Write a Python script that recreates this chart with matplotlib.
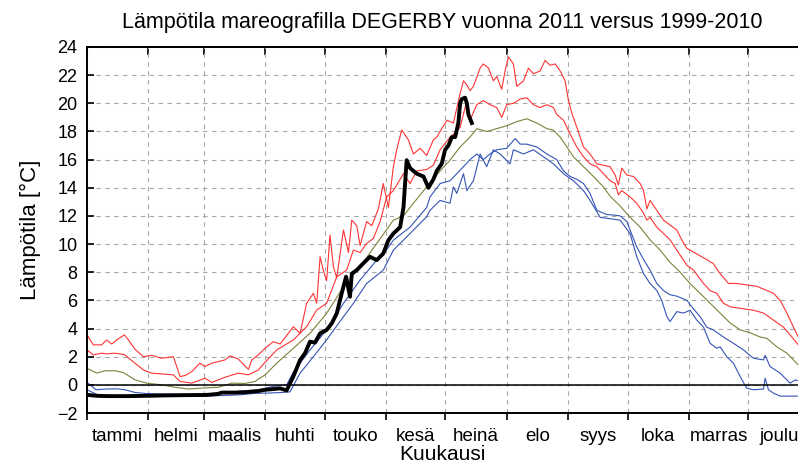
import matplotlib
matplotlib.use('Agg')
import matplotlib.pyplot as plt
import numpy as np

# day of year, temperature (deg C)
red_max = [(0, 3.55), (3.2, 2.84), (7.4, 2.84), (9.9, 3.19), (12.5, 2.9), (15, 3.19), (18.9, 3.55),
           (20.9, 3.19), (24.2, 2.53), (28.5, 2.0), (32.7, 2.1), (37.7, 1.89), (43.6, 2.0), (47, 0.59),
           (49.5, 0.66), (52.9, 0.94), (57, 1.54), (59.6, 1.3), (63, 1.54), (69.7, 1.77), (72.2, 2.06),
           (76.4, 1.83), (81.5, 1.1), (83.2, 1.77), (86.5, 2.13), (89.9, 2.6), (94.1, 3.07), (97.5, 2.9),
           (104.2, 4.13), (107.6, 3.66), (110.9, 5.79), (114.3, 6.5), (116, 5.8), (117.7, 9.1),
           (119.4, 8.1), (121, 7.4), (122.7, 10.64), (124.4, 8.4), (126.1, 7.6), (129.5, 11.0),
           (132, 9.4), (133.7, 11.7), (136.2, 11.3), (137.9, 9.9), (141.2, 11.6), (143.8, 11.3),
           (147.1, 12.5), (149.6, 14.3), (152.2, 12.6), (154.7, 15.5), (156.4, 16.7), (158.9, 18.1),
           (162.3, 17.4), (164.8, 16.4), (168.2, 16.8), (171.5, 16.3), (174.9, 17.4), (176.6, 17.6),
           (181.7, 18.8), (185, 18.6), (188.4, 20.7), (190.1, 21.6), (191.8, 21.3), (193.4, 20.9),
           (195.1, 21.2), (198.5, 22.5), (200.1, 22.8), (202.7, 22.5), (205.2, 21.6), (206.9, 21.9),
           (209.4, 21.0), (211.1, 22.3), (212.8, 23.3), (215.3, 22.8), (217, 21.2), (220.4, 21.6),
           (222.9, 22.5), (225.4, 22.1), (228.8, 22.3), (231.3, 23.05), (233.8, 22.7), (236.4, 22.8),
           (238.9, 22.3), (241.4, 21.6), (243.1, 20.2), (244.8, 19.3), (247.3, 18.3), (250.7, 16.9),
           (254, 16.4), (257.4, 15.7), (260.8, 15.6), (264.1, 15.5), (266.7, 14.9), (268.3, 14.2),
           (270, 15.4), (272.6, 14.9), (275.9, 14.8), (279.3, 14.3), (281, 13.8), (282.7, 12.5),
           (284.3, 13.1), (287.7, 12.4), (291.1, 11.7), (294.4, 11.35), (297.8, 11.0), (300.3, 10.3),
           (302.9, 9.7), (307.9, 9.3), (312.9, 8.9), (316.3, 8.6), (319.7, 7.9), (323.9, 7.2),
           (328.1, 7.2), (333.1, 7.1), (338.2, 7.0), (343.3, 6.7), (346.6, 6.5), (350, 6.0),
           (353.4, 5.1), (356.7, 4.1), (359.1, 3.4)]

red_upper = [(0, 2.48), (3.2, 2.13), (7.4, 2.25), (9.9, 2.2), (14, 2.25), (18.9, 2.15), (24.2, 1.54),
             (28.5, 1.06), (32.7, 0.83), (43.6, 0.71), (47, 0.24), (52.9, 0.12), (59.6, 0.47), (63, 0.17),
             (69.7, 0.54), (76.4, 0.83), (81.5, 0.71), (86.5, 1.06), (89.9, 1.6), (95.8, 2.48),
             (104.2, 3.19), (110.9, 4.13), (116, 5.32), (121, 5.79), (126.1, 7.68), (131.1, 8.15),
             (134.5, 9.57), (137.9, 9.4), (141.2, 10.05), (144.6, 10.4), (148, 11.6), (151.3, 13.35),
             (154.7, 13.8), (159.8, 15.0), (163.1, 14.3), (166.5, 15.2), (171.5, 15.3), (174.9, 15.6),
             (178.3, 16.7), (183.3, 17.6), (185.9, 17.9), (188.4, 18.3), (191.8, 20.2), (193.4, 18.8),
             (196.8, 19.9), (200.1, 20.2), (203.5, 19.9), (206.9, 19.7), (209.4, 19.0), (211.9, 19.9),
             (215.3, 20.0), (218.7, 20.3), (222, 20.4), (225.4, 19.9), (228.8, 19.7), (232.2, 19.9),
             (235.5, 19.7), (237.2, 19.2), (240.6, 18.8), (244, 17.8), (247.3, 16.9), (250.7, 16.2),
             (254, 15.7), (257.4, 15.5), (260.8, 15.0), (264.1, 14.5), (266.7, 14.3), (268.3, 13.5),
             (270, 13.8), (274.2, 13.35), (277.6, 12.9), (281, 12.2), (282.7, 11.7), (284.3, 11.9),
             (287.7, 11.2), (291.1, 10.75), (294.4, 10.3), (297.8, 9.57), (302.9, 8.5), (306.2, 8.15),
             (311.3, 7.2), (314.6, 6.7), (318, 6.5), (321.3, 5.8), (324.7, 5.55), (331.5, 5.4),
             (336.5, 5.3), (341.6, 5.1), (346.6, 4.6), (351.7, 4.1), (355.9, 3.4), (359.1, 2.84)]

mean = [(0, 1.18), (4.9, 0.83), (9.1, 1.0), (14.1, 1.0), (18.4, 0.87), (24.2, 0.36), (30.1, 0.12),
        (37.7, 0.0), (44.4, -0.17), (51.2, -0.3), (57.9, -0.23), (66.3, -0.17), (73.1, 0.12),
        (79.8, 0.1), (84.8, 0.24), (89.9, 0.71), (95.8, 1.54), (104.2, 2.6), (112.6, 3.66),
        (121, 5.08), (129.5, 6.97), (137.9, 8.39), (146.3, 10.05), (154.7, 11.7), (159.8, 12.0),
        (164.8, 12.9), (171.5, 14.06), (178.3, 15.2), (183.3, 15.96), (188.4, 16.9), (193.4, 17.6),
        (196.8, 18.2), (201.8, 18.0), (206.9, 18.2), (211.9, 18.4), (217, 18.7), (222, 18.9),
        (227.1, 18.6), (232.2, 18.2), (235.5, 18.1), (238.9, 17.6), (242.3, 16.9), (245.6, 16.2),
        (250.7, 15.5), (255.7, 14.8), (260.8, 14.06), (264.1, 13.4), (269.2, 12.7), (274.2, 11.9),
        (279.3, 11.2), (284.3, 10.3), (289.4, 9.57), (294.4, 8.7), (299.5, 8.0), (304.5, 7.2),
        (309.6, 6.5), (314.6, 5.8), (319.7, 5.1), (324.7, 4.4), (329.8, 3.9), (334.8, 3.7),
        (339.9, 3.4), (343.3, 3.3), (348.3, 2.7), (353.4, 2.25), (359.1, 1.42)]

blue_lower_std = [(0, 0.17), (2.5, -0.1), (4.4, -0.35), (9.1, -0.3), (15, -0.28), (19.2, -0.35),
                  (24.2, -0.54), (30, -0.62), (40, -0.65), (50, -0.68), (60, -0.65), (70, -0.55),
                  (77, -0.45), (82, -0.4), (87.4, -0.35), (94.1, -0.1), (100.8, 0.0), (104.2, 0.9),
                  (112.6, 2.48), (121, 3.9), (129.5, 5.79), (137.9, 7.45), (146.3, 8.86), (151.3, 9.6),
                  (154.7, 10.28), (163.1, 11.2), (171.5, 12.6), (173.2, 13.35), (178.3, 14.3),
                  (183.3, 14.5), (186.7, 15.0), (190.1, 15.5), (193.4, 16.0), (196.8, 16.4),
                  (200.1, 16.0), (203.5, 16.4), (206.9, 16.7), (211.9, 16.8), (216.2, 17.5),
                  (218.7, 17.1), (222, 17.1), (227.1, 16.9), (232.2, 16.4), (237.2, 16.0), (240.6, 15.2),
                  (244, 14.8), (247.3, 14.6), (250.7, 14.3), (254, 13.6), (257.4, 12.4), (262.4, 12.1),
                  (266, 12.06), (269.2, 12.0), (272.6, 11.6), (274.2, 11.0), (277.6, 9.8), (281, 8.9),
                  (284.3, 8.15), (287.7, 7.2), (291.1, 6.7), (294.4, 6.4), (297.8, 6.3), (302.9, 6.0),
                  (306.2, 5.4), (309.6, 4.84), (312.9, 4.1), (316.3, 3.9), (321.3, 3.4), (326.4, 2.95),
                  (331.5, 2.48), (336.5, 1.89), (341.6, 1.77), (342.4, 2.1), (344.9, 1.3), (350, 0.83),
                  (355, 0.12), (357.6, 0.35), (359.1, 0.3)]

blue_min = [(0, -0.35), (3, -0.55), (6, -0.75), (15, -0.8), (30, -0.82), (45, -0.82), (60, -0.8),
            (70, -0.75), (78, -0.7), (85, -0.6), (90, -0.59), (97.5, -0.55), (102.5, -0.5),
            (107.6, 0.83), (114.3, 2.0), (121, 3.2), (129.5, 4.84), (134.5, 5.79), (141.2, 7.2),
            (149.6, 8.15), (154.7, 9.57), (163.1, 10.75), (171.5, 11.94), (173.2, 12.4), (178.3, 13.1),
            (183.3, 12.9), (185, 14.06), (186.7, 13.6), (190.1, 15.0), (191.8, 13.8), (195.1, 14.5),
            (198.5, 16.4), (201.8, 15.5), (205.2, 16.7), (208.6, 16.4), (213.6, 15.7), (215.3, 16.7),
            (220.4, 16.4), (225.4, 16.7), (230.5, 16.2), (235.5, 15.7), (240.6, 15.0), (245.6, 14.5),
            (250.7, 13.8), (254, 13.1), (259.1, 11.9), (264.1, 11.8), (269.2, 11.7), (274.2, 10.75),
            (277.6, 9.1), (281, 7.9), (284.3, 7.2), (287.7, 6.7), (290.2, 6.0), (292.8, 4.84),
            (294.4, 4.5), (297.8, 5.2), (301.2, 5.1), (304.5, 5.3), (307.9, 4.6), (311.3, 4.1),
            (314.6, 2.95), (318, 2.6), (319.7, 2.7), (323, 2.0), (326.4, 1.54), (329.8, 0.59),
            (333.1, -0.24), (336.5, -0.35), (341.6, -0.3), (342.4, 0.47), (344.1, -0.35),
            (346.6, -0.59), (350, -0.8), (359.1, -0.8)]

year_2011 = [(0, -0.71), (5, -0.78), (10, -0.8), (20, -0.8), (30, -0.78), (40, -0.75), (50, -0.73),
             (60, -0.72), (66, -0.65), (68, -0.55), (75, -0.55), (80, -0.52), (86, -0.45), (90, -0.35),
             (94.1, -0.3), (97.5, -0.25), (100.8, -0.4), (104.2, 0.6), (107.6, 1.77), (110.1, 2.25),
             (112.6, 3.07), (115.1, 3.0), (117.7, 3.66), (121, 3.9), (123.6, 4.37), (126.1, 5.08),
             (128.6, 6.5), (130.8, 7.68), (132.8, 6.26), (133.7, 7.9), (136.2, 8.15), (139.5, 8.63),
             (142.9, 9.1), (146.3, 8.86), (149.6, 9.33), (152.2, 10.28), (154.7, 10.75), (158.1, 11.2),
             (159.8, 12.6), (161.4, 15.96), (163.1, 15.4), (166.5, 15.0), (169.9, 14.8), (172.4, 14.0),
             (174.9, 14.6), (176.6, 15.2), (179.1, 15.7), (180.8, 16.7), (182.5, 17.0), (184.2, 17.6),
             (185.9, 17.6), (187.5, 18.6), (188.4, 20.0), (189.2, 20.3), (190.9, 20.4), (191.8, 20.0),
             (192.6, 19.2), (194.3, 18.6)]

month_starts = [0, 31, 59, 90, 120, 151, 181, 212, 243, 273, 304, 334]
month_lengths = [31, 28, 31, 30, 31, 30, 31, 31, 30, 31, 30, 31]
month_names = ['tammi', 'helmi', 'maalis', 'huhti', 'touko', 'kesä',
               'heinä', 'elo', 'syys', 'loka', 'marras', 'joulu']

plt.rcParams['font.family'] = ['Liberation Sans', 'DejaVu Sans']

fig = plt.figure(figsize=(7.98, 4.68), dpi=100)
ax = fig.add_axes([87 / 798., 1 - 413 / 468., 711 / 798., 366 / 468.])

RED = '#ff3333'
OLIVE = '#80803a'
BLUE = '#3553b5'

series = [(red_max, RED), (red_upper, RED), (mean, OLIVE),
          (blue_lower_std, BLUE), (blue_min, BLUE)]
for data, col in series:
    d = np.array(data)
    ax.plot(d[:, 0], d[:, 1], color=col, lw=0.8)

d = np.array(year_2011)
ax.plot(d[:, 0], d[:, 1], color='black', lw=2.8, solid_joinstyle='round')

ax.axhline(0, color='black', lw=1.1)

ax.set_xlim(0, 359)
ax.set_ylim(-2, 24)
ax.set_yticks(np.arange(-2, 25, 2))

ax.set_xticks(month_starts)
ax.set_xticklabels([])
mids = [s + l / 2. for s, l in zip(month_starts, month_lengths)]
ax.set_xticks(mids, minor=True)
ax.set_xticklabels(month_names, minor=True)
ax.tick_params(axis='x', which='minor', length=0, labelsize=13.5, pad=11)
ax.tick_params(axis='x', which='major', direction='out', length=5, width=1.2)
ax.tick_params(axis='y', direction='in', length=5, width=1.2, labelsize=13, pad=7)

top = ax.secondary_xaxis('top')
top.set_xticks(month_starts)
top.set_xticklabels([])
top.tick_params(direction='in', length=6, width=1.2)
top.spines['top'].set_linewidth(1.4)

ax.grid(True, which='major', color='#a8a8a8', linestyle=(0, (4, 4)), lw=0.8)
ax.set_axisbelow(True)

for s in ['left', 'bottom', 'top']:
    ax.spines[s].set_linewidth(1.4)
ax.spines['right'].set_visible(False)

ax.set_title('Lämpötila mareografilla DEGERBY vuonna 2011 versus 1999-2010', fontsize=15.5, pad=14)
ax.set_xlabel('Kuukausi', fontsize=15, labelpad=0)
ax.set_ylabel('Lämpötila [°C]', fontsize=16, labelpad=11)

fig.savefig('out.png', dpi=100)
